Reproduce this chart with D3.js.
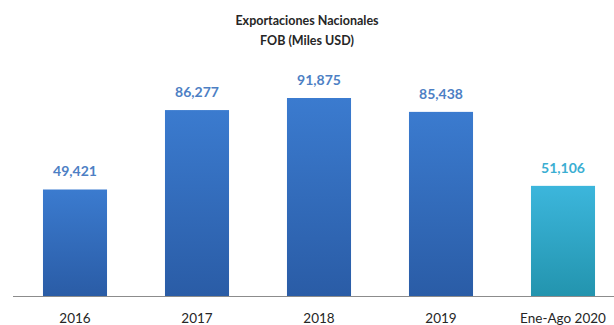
<!DOCTYPE html>
<html>
<head>
<meta charset="utf-8">
<script src="https://cdn.jsdelivr.net/npm/d3@7"></script>
<style>
  html, body { margin: 0; padding: 0; background: #fff; }
  svg { display: block; font-family: Lato, "Open Sans", sans-serif; }
</style>
</head>
<body>
<svg id="chart" width="614" height="325"></svg>
<script>
// Exportaciones nacionales, FOB en miles de USD
const categories = ["2016", "2017", "2018", "2019", "Ene-Ago 2020"];
const values = [49421, 86277, 91875, 85438, 51106];
const titleLines = ["Exportaciones Nacionales", "FOB (Miles USD)"];

const W = 614, H = 325;
const baseY = 296;
const svg = d3.select("#chart");

const x = d3.scaleBand()
  .domain(categories)
  .range([14, 624])
  .paddingInner(0.475)
  .paddingOuter(0.2375);

const y = d3.scaleLinear()
  .domain([0, 100000])
  .range([baseY, 80.5]);

const defs = svg.append("defs");
function grad(id, top, bottom) {
  const g = defs.append("linearGradient").attr("id", id)
    .attr("x1", 0).attr("y1", 0).attr("x2", 0).attr("y2", 1);
  g.append("stop").attr("offset", "0%").attr("stop-color", top);
  g.append("stop").attr("offset", "100%").attr("stop-color", bottom);
}
grad("gBlue", "#3b7bcf", "#2a5ca6");
grad("gCyan", "#3cb6dc", "#2394ae");

const isLast = (d, i) => i === categories.length - 1;

// bars
svg.append("g").selectAll("rect")
  .data(values)
  .join("rect")
  .attr("x", (d, i) => x(categories[i]))
  .attr("y", d => y(d))
  .attr("width", x.bandwidth())
  .attr("height", d => y(0) - y(d))
  .attr("fill", (d, i) => isLast(d, i) ? "url(#gCyan)" : "url(#gBlue)");

// axis line along the baseline
svg.append("line")
  .attr("x1", 13).attr("x2", W)
  .attr("y1", baseY + 0.5).attr("y2", baseY + 0.5)
  .attr("stroke", "#8c8c8c").attr("stroke-width", 1);

// category labels
const xAxis = d3.axisBottom(x).tickSize(0).tickPadding(0);
const ax = svg.append("g").attr("transform", `translate(0,${baseY})`).call(xAxis);
ax.select(".domain").remove();
ax.selectAll("text")
  .attr("y", 27)
  .attr("dy", 0)
  .attr("font-size", 13.5)
  .attr("font-family", "Lato, 'Open Sans', sans-serif")
  .attr("fill", "#262626");

// value labels
const fmt = d3.format(",");
svg.append("g").selectAll("text")
  .data(values)
  .join("text")
  .attr("x", (d, i) => x(categories[i]) + x.bandwidth() / 2)
  .attr("y", d => y(d) - 13)
  .attr("text-anchor", "middle")
  .attr("font-size", 14)
  .attr("font-weight", "bold")
  .attr("fill", (d, i) => isLast(d, i) ? "#3aaed2" : "#4d7fc4")
  .text(d => fmt(d));

// title
svg.append("g").selectAll("text")
  .data(titleLines)
  .join("text")
  .attr("x", 307)
  .attr("y", (d, i) => 25 + i * 20)
  .attr("text-anchor", "middle")
  .attr("font-size", 12.5)
  .attr("font-weight", "bold")
  .attr("fill", "#262626")
  .text(d => d);
</script>
</body>
</html>
